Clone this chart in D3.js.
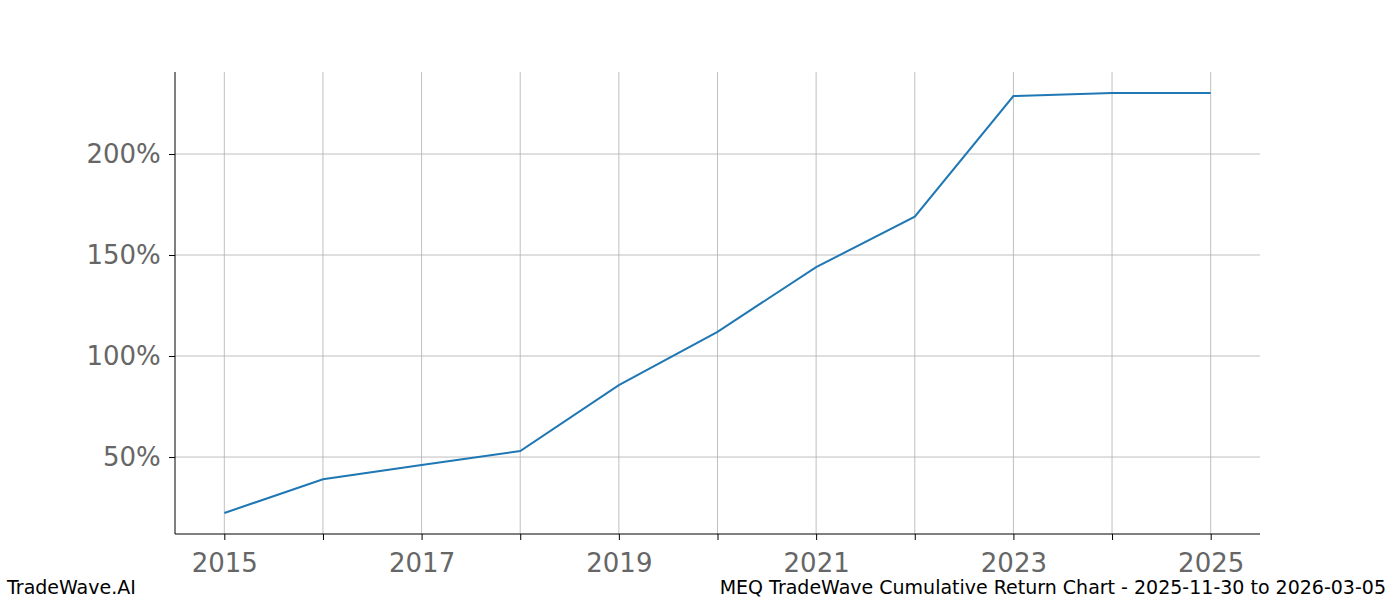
<!DOCTYPE html>
<html>
<head>
<meta charset="utf-8">
<script src="https://cdn.jsdelivr.net/npm/d3@7"></script>
<style>body{margin:0;background:#fff;font-family:"DejaVu Sans",sans-serif;}</style>
</head>
<body>
<svg id="chart" width="1400" height="600"></svg>
<script>
const years = [2015, 2016, 2017, 2018, 2019, 2020, 2021, 2022, 2023, 2024, 2025];
const returns = [22.3, 39, 46, 53, 85.6, 112, 144, 169, 228.7, 230.2, 230.2];
const yTicks = [50, 100, 150, 200];
const xTickLabels = [2015, 2017, 2019, 2021, 2023, 2025];

const svg = d3.select("#chart");
const mLeft = 175, mRight = 1260, mTop = 72, mBottom = 534;

const x = d3.scaleLinear().domain([2014.5, 2025.5]).range([mLeft, mRight]);
const y = d3.scaleLinear().domain([11.9, 240.6]).range([mBottom, mTop]);

// grid
svg.append("g").selectAll("line").data(years).enter().append("line")
  .attr("x1", d => x(d)).attr("x2", d => x(d)).attr("y1", mTop).attr("y2", mBottom)
  .style("stroke", "#b0b0b0").style("stroke-width", 0.8);
svg.append("g").selectAll("line").data(yTicks).enter().append("line")
  .attr("x1", mLeft).attr("x2", mRight).attr("y1", d => y(d)).attr("y2", d => y(d))
  .style("stroke", "#b0b0b0").style("stroke-width", 0.8);

// axes
const xAxis = svg.append("g").attr("transform", `translate(0,${mBottom})`)
  .call(d3.axisBottom(x).tickValues(years).tickSize(6)
    .tickFormat(d => xTickLabels.includes(d) ? d : ""));
xAxis.select(".domain").attr("d", `M${mLeft},0H${mRight}`);
const yAxis = svg.append("g").attr("transform", `translate(${mLeft},0)`)
  .call(d3.axisLeft(y).tickValues(yTicks).tickSize(6).tickFormat(d => d + "%"));
yAxis.select(".domain").attr("d", `M0,${mTop}V${mBottom}`);
svg.selectAll(".tick text").style("font-size", "26px").style("fill", "#666")
  .style("font-family", "DejaVu Sans");
xAxis.selectAll(".tick text").attr("dy", "1.1em");
yAxis.selectAll(".tick text").attr("dx", "-0.2em");
svg.selectAll(".domain, .tick line").style("stroke", "#000");

// line
const line = d3.line().x((d, i) => x(years[i])).y(d => y(d));
svg.append("path").attr("d", line(returns))
  .style("fill", "none").style("stroke", "#1f77b4").style("stroke-width", 2);

// footer
svg.append("text").attr("x", 7).attr("y", 594).text("TradeWave.AI")
  .style("font-size", "19px").style("fill", "#000");
svg.append("text").attr("x", 1386).attr("y", 594).attr("text-anchor", "end")
  .text("MEQ TradeWave Cumulative Return Chart - 2025-11-30 to 2026-03-05")
  .style("font-size", "19px").style("fill", "#000");
</script>
</body>
</html>
